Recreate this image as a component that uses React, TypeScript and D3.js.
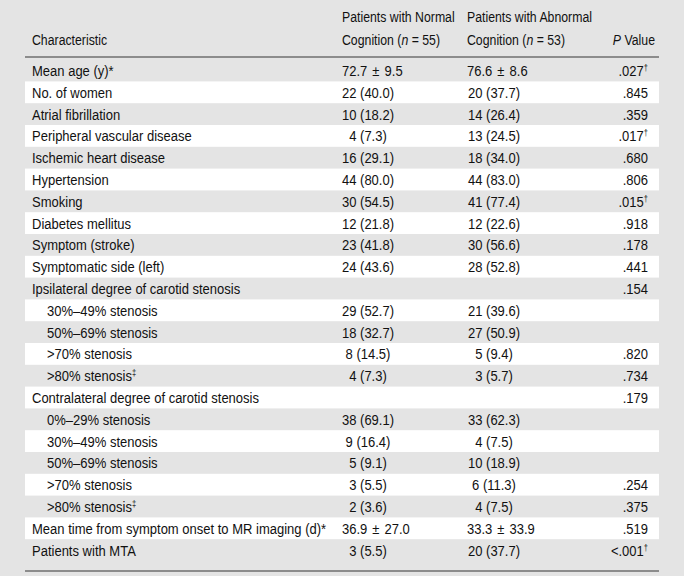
import React from "react";
import * as d3 from "d3";

const characteristics = [
  "Mean age (y)",
  "No. of women",
  "Atrial fibrillation",
  "Peripheral vascular disease",
  "Ischemic heart disease",
  "Hypertension",
  "Smoking",
  "Diabetes mellitus",
  "Symptom (stroke)",
  "Symptomatic side (left)",
  "Ipsilateral degree of carotid stenosis",
  "30%–49% stenosis",
  "50%–69% stenosis",
  ">70% stenosis",
  ">80% stenosis",
  "Contralateral degree of carotid stenosis",
  "0%–29% stenosis",
  "30%–49% stenosis",
  "50%–69% stenosis",
  ">70% stenosis",
  ">80% stenosis",
  "Mean time from symptom onset to MR imaging (d)",
  "Patients with MTA",
];
const labelMarks = ["*", "", "", "", "", "", "", "", "", "", "", "", "", "", "‡", "", "", "", "", "", "‡", "*", ""];
const indented = [false, false, false, false, false, false, false, false, false, false, false, true, true, true, true, false, true, true, true, true, true, false, false];
const normalValues = [
  "72.7 ± 9.5", "22 (40.0)", "10 (18.2)", "4 (7.3)", "16 (29.1)", "44 (80.0)", "30 (54.5)", "12 (21.8)",
  "23 (41.8)", "24 (43.6)", "", "29 (52.7)", "18 (32.7)", "8 (14.5)", "4 (7.3)", "", "38 (69.1)",
  "9 (16.4)", "5 (9.1)", "3 (5.5)", "2 (3.6)", "36.9 ± 27.0", "3 (5.5)",
];
const abnormalValues = [
  "76.6 ± 8.6", "20 (37.7)", "14 (26.4)", "13 (24.5)", "18 (34.0)", "44 (83.0)", "41 (77.4)", "12 (22.6)",
  "30 (56.6)", "28 (52.8)", "", "21 (39.6)", "27 (50.9)", "5 (9.4)", "3 (5.7)", "", "33 (62.3)",
  "4 (7.5)", "10 (18.9)", "6 (11.3)", "4 (7.5)", "33.3 ± 33.9", "20 (37.7)",
];
const pValues = [
  ".027", ".845", ".359", ".017", ".680", ".806", ".015", ".918", ".178", ".441", ".154", "", "",
  ".820", ".734", ".179", "", "", "", ".254", ".375", ".519", "<.001",
];
const pSignificant = [true, false, false, true, false, false, true, false, false, false, false, false, false,
  false, false, false, false, false, false, false, false, false, true];
const headerNormal = ["Patients with Normal", "Cognition (", "n", " = 55)"];
const headerAbnormal = ["Patients with Abnormal", "Cognition (", "n", " = 53)"];

const W = 684;
const H = 576;
const FONT = "'Liberation Sans', Arial, sans-serif";
const BG = "#e4e4e4";

function Txt(props: { x: number; y: number; anchor?: string; sx?: number; size?: number; children?: React.ReactNode }) {
  const sx = props.sx ?? 0.84;
  return (
    <text
      transform={`translate(${props.x} ${props.y}) scale(${sx} 1)`}
      textAnchor={props.anchor || "start"}
      fontSize={props.size ?? 15.5}
    >
      {props.children}
    </text>
  );
}

function renderValue(v: string) {
  if (!v.includes(" ± ")) return v;
  const [a, b] = v.split(" ± ");
  return (
    <>
      {a}
      <tspan dx={6}>±</tspan>
      <tspan dx={6}>{b}</tspan>
    </>
  );
}

export default function App() {
  const idx = d3.range(characteristics.length);
  const rowH = 21.8;
  const y = d3.scaleBand<number>().domain(idx).range([59.6, 59.6 + rowH * idx.length]).padding(0);
  const left = 25;
  const right = 659;
  const labelX = 32;
  const indentX = 47;
  const col2Start = 342;
  const col2Center = 368;
  const col3Start = 467;
  const col3Center = 494;
  const pRight = 648;

  const isMean = (s: string) => s.includes("±");

  return (
    <div style={{ position: "absolute", left: 0, top: 0, width: W, height: H, background: BG }}>
      <svg width={W} height={H} style={{ display: "block" }} fontFamily={FONT} fill="#111111">
        <rect x={0} y={0} width={W} height={H} fill={BG} />
        {/* header */}
        <Txt x={col2Start} y={22} sx={0.82} size={15}>{headerNormal[0]}</Txt>
        <Txt x={col2Start} y={45} sx={0.82} size={15}>
          {headerNormal[1]}
          <tspan fontStyle="italic">{headerNormal[2]}</tspan>
          {headerNormal[3]}
        </Txt>
        <Txt x={col3Start} y={22} sx={0.82} size={15}>{headerAbnormal[0]}</Txt>
        <Txt x={col3Start} y={45} sx={0.82} size={15}>
          {headerAbnormal[1]}
          <tspan fontStyle="italic">{headerAbnormal[2]}</tspan>
          {headerAbnormal[3]}
        </Txt>
        <Txt x={labelX} y={45} sx={0.82} size={15}>Characteristic</Txt>
        <Txt x={655} y={45} anchor="end" sx={0.82} size={15}>
          <tspan fontStyle="italic">P</tspan> Value
        </Txt>
        <line x1={left} x2={right} y1={57} y2={57} stroke="#8c8c8c" strokeWidth={2} />

        {idx.map((i) => {
          const top = y(i)!;
          const bw = y.bandwidth();
          const base = top + bw / 2 + 5.4;
          const nv = normalValues[i];
          const av = abnormalValues[i];
          return (
            <g key={i}>
              {i % 2 === 1 && (
                <rect x={left} y={top} width={right - left} height={bw} fill="#ffffff" />
              )}
              <Txt x={indented[i] ? indentX : labelX} y={base}>
                {characteristics[i]}
                {labelMarks[i] === "‡" ? (
                  <tspan fontSize={9} dy={-5}>‡</tspan>
                ) : (
                  labelMarks[i]
                )}
              </Txt>
              {nv && (
                <Txt x={isMean(nv) ? col2Start : col2Center} y={base} anchor={isMean(nv) ? "start" : "middle"}>
                  {renderValue(nv)}
                </Txt>
              )}
              {av && (
                <Txt x={isMean(av) ? col3Start : col3Center} y={base} anchor={isMean(av) ? "start" : "middle"}>
                  {renderValue(av)}
                </Txt>
              )}
              {pValues[i] && (
                <Txt x={pRight} y={base} anchor="end">
                  {pValues[i]}
                  {pSignificant[i] && <tspan fontSize={9} dy={-5}>†</tspan>}
                </Txt>
              )}
            </g>
          );
        })}
        <line x1={left} x2={right} y1={571} y2={571} stroke="#8c8c8c" strokeWidth={2} />
      </svg>
    </div>
  );
}
